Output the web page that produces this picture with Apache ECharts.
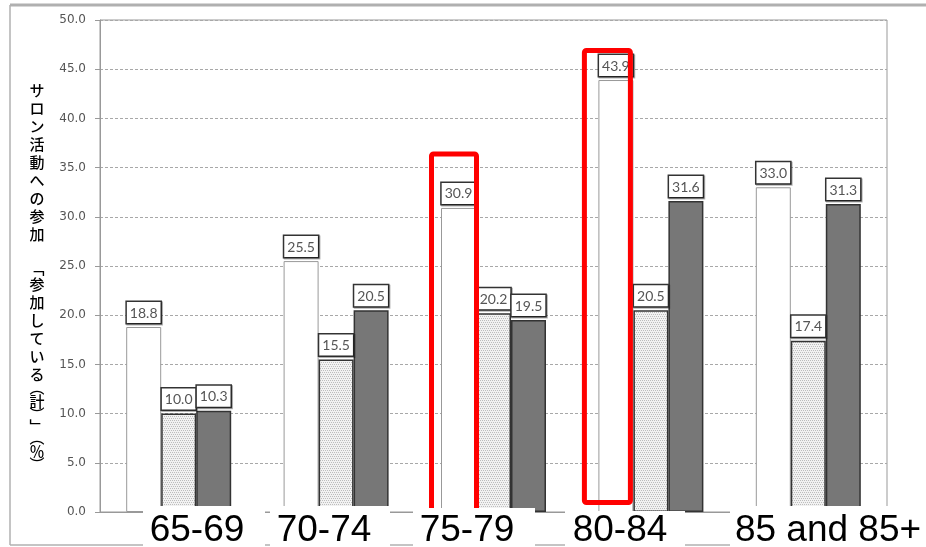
<!DOCTYPE html>
<html><head><meta charset="utf-8">
<script src="https://cdn.jsdelivr.net/npm/echarts@6/dist/echarts.min.js"></script>
<style>html,body{margin:0;padding:0;background:#fff}#c{width:926px;height:547px}</style>
</head><body><div id="c"></div>
<script>
// ---- data ----
const categories = ['65-69', '70-74', '75-79', '80-84', '85 and 85+'];
const seriesWhite = [18.8, 25.5, 30.9, 43.9, 33.0];
const seriesDotted = [10.0, 15.5, 20.2, 20.5, 17.4];
const seriesDark = [10.3, 20.5, 19.5, 31.6, 31.3];
const yMin = 0, yMax = 50, yStep = 5;
const axisTitleChars = ['サ','ロ','ン','活','動','へ','の','参','加','　','﹁','参','加','し','て','い','る','︵','計','︶','﹂','︵','％','︶'];
const highlightIdx = [2, 3]; // highlighted white bars (75-79, 80-84)

// ---- chart ----
const chart = echarts.init(document.getElementById('c'), null, {renderer: 'canvas'});

function dotPattern() {
  const c = document.createElement('canvas');
  c.width = 4; c.height = 4;
  const g = c.getContext('2d');
  g.fillStyle = '#f2f2f2'; g.fillRect(0, 0, 4, 4);
  g.fillStyle = '#bdbdbd';
  g.fillRect(0, 0, 1, 1); g.fillRect(2, 0, 1, 1);
  g.fillRect(1, 2, 1, 1); g.fillRect(3, 2, 1, 1);
  return c;
}

const valueLabel = {
  show: true, position: 'top', distance: 4,
  formatter: p => Number(p.value).toFixed(1),
  color: '#555', fontFamily: 'Lato', fontSize: 14, lineHeight: 16,
  backgroundColor: '#fff', borderColor: '#333', borderWidth: 1.5,
  padding: [3, 3, 2, 3],
  shadowColor: 'rgba(0,0,0,0.3)', shadowOffsetX: 1, shadowOffsetY: 1, shadowBlur: 0
};

const tFont = 'Noto Sans CJK JP';
const titleRich = {
  c: {fontFamily: tFont, fontSize: 15, fontWeight: 500, lineHeight: 18, color: '#444', align: 'center'},
  b: {fontFamily: tFont, fontSize: 15, fontWeight: 500, lineHeight: 14, color: '#444', align: 'center'},
  p: {fontFamily: tFont, fontSize: 15, fontWeight: 500, lineHeight: 9, color: '#444', align: 'center'}
};
const titleText = axisTitleChars.map(ch => {
  if ('︵︶'.includes(ch)) return '{p|' + ch + '}';
  if ('﹁﹂'.includes(ch)) return '{b|' + ch + '}';
  return '{c|' + ch + '}';
}).join('\n');

const option = {
  animation: false,
  backgroundColor: '#fff',
  grid: {left: 100, right: 39, top: 20, bottom: 35, show: true, borderColor: '#999', borderWidth: 1, containLabel: false},
  xAxis: {
    type: 'category', data: categories,
    axisLine: {show: true, lineStyle: {color: '#999', width: 1}},
    axisTick: {show: false}, axisLabel: {show: false}
  },
  yAxis: {
    type: 'value', min: yMin, max: yMax, interval: yStep,
    axisLine: {show: true, lineStyle: {color: '#999', width: 1}},
    axisTick: {show: true, length: 5, inside: false, lineStyle: {color: '#999'}},
    axisLabel: {margin: 14, color: '#555', fontFamily: 'DejaVu Sans', fontSize: 12, formatter: v => v.toFixed(1)},
    splitLine: {show: true, lineStyle: {color: '#a8a8a8', type: [3, 2], width: 1}}
  },
  series: [
    {type: 'bar', name: 'A', data: seriesWhite, barWidth: 35, barGap: '0%',
     itemStyle: {color: '#fff', borderColor: '#999', borderWidth: 1}, label: valueLabel},
    {type: 'bar', name: 'B', data: seriesDotted, barWidth: 35, barGap: '0%',
     itemStyle: {color: {image: dotPattern(), repeat: 'repeat'}, borderColor: '#333', borderWidth: 1.5}, label: valueLabel},
    {type: 'bar', name: 'C', data: seriesDark, barWidth: 35, barGap: '0%',
     itemStyle: {color: '#777', borderColor: '#333', borderWidth: 1.5}, label: valueLabel}
  ]
};
chart.setOption(option);

// ---- overlays: border, axis title, highlight boxes, category captions ----
const bw = 35;
const px = (i, v) => chart.convertToPixel({xAxisIndex: 0, yAxisIndex: 0}, [i, v]);
const hlOffsets = [
  {l: -9.5, r: 0.5, t: -54, b: 535},
  {l: -14, r: -3, t: -29.6, b: 502.5}
];
const highlights = highlightIdx.map((idx, k) => {
  const [cx, top] = px(idx, seriesWhite[idx]);
  const left = cx - 1.5 * bw, right = cx - 0.5 * bw;
  const o = hlOffsets[k];
  return {type: 'rect', z: 200,
    shape: {x: left + o.l, y: top + o.t, width: (right + o.r) - (left + o.l), height: o.b - (top + o.t), r: 2},
    style: {fill: null, stroke: '#ff0000', lineWidth: 5}};
});
const captionBoxes = [
  {x: 143, y: 506, w: 122, tx: 197},
  {x: 270, y: 506, w: 120, tx: 324},
  {x: 413, y: 508, w: 122, tx: 467},
  {x: 565, y: 511, w: 120, tx: 620},
  {x: 730, y: 506, w: 196, tx: 828}
];
const captions = [];
categories.forEach((name, i) => {
  const b = captionBoxes[i];
  captions.push({type: 'rect', z: 300, shape: {x: b.x, y: b.y, width: b.w, height: 547 - b.y}, style: {fill: '#fff'}});
  captions.push({type: 'text', z: 301, x: b.tx, y: 531,
    style: {text: name, fill: '#000', font: '37px "Liberation Sans", Arial, sans-serif', align: 'center', verticalAlign: 'middle'}});
});

chart.setOption({graphic: [
  {type: 'line', z: 50, shape: {x1: 10, y1: 5, x2: 926, y2: 5}, style: {stroke: '#b0b0b0', lineWidth: 3}},
  {type: 'line', z: 50, shape: {x1: 10, y1: 5, x2: 10, y2: 545}, style: {stroke: '#b0b0b0', lineWidth: 1.5}},
  {type: 'line', z: 50, shape: {x1: 10, y1: 545, x2: 926, y2: 545}, style: {stroke: '#b0b0b0', lineWidth: 1.5}},
  {type: 'text', z: 50, x: 37, y: 81, style: {text: titleText, rich: titleRich, align: 'center', verticalAlign: 'top'}},
  ...highlights,
  ...captions
]});
</script>
</body></html>
